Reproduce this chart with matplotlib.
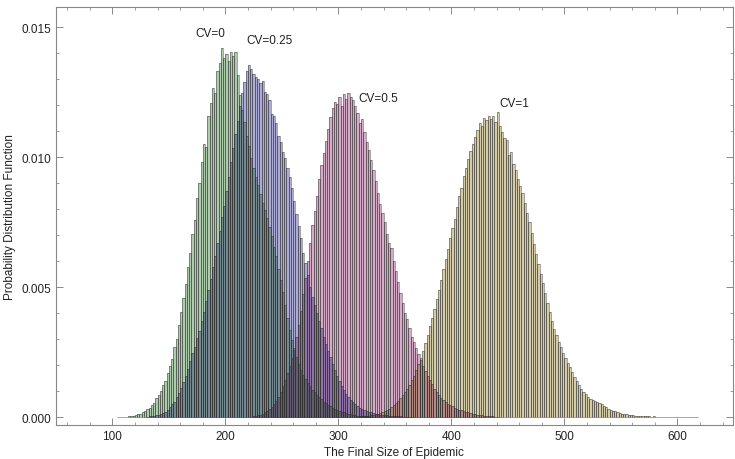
import numpy as np
import matplotlib
matplotlib.use("Agg")
import matplotlib.pyplot as plt
from matplotlib.ticker import MultipleLocator, FormatStrFormatter

plt.rcParams["font.family"] = ["Liberation Sans", "DejaVu Sans"]

# bin width of every histogram
bin_width = 2

# heights are in units of 1e-4 (probability density), bins start at *_start
cv0_start = 104
cv0_heights = [
    0.1, 0.1, 0.2, 0.1, 0.2, 0.3, 0.4, 0.5, 0.8, 1.1, 1.3, 1.9, 2.4, 3.0, 3.6, 4.8,
    5.5, 7.2, 8.4, 10.1, 12.3, 14.0, 16.9, 19.8, 22.5, 27.1, 30.2, 35.6, 40.3, 46.0,
    51.2, 57.8, 63.1, 70.5, 76.0, 84.2, 89.9, 98.0, 105.1, 104.0, 115.7, 121.0, 126.5,
    124.8, 133.0, 136.1, 141.8, 138.2, 139.6, 137.0, 140.5, 139.0, 140.3, 131.5, 124.0,
    118.2, 113.5, 108.0, 104.2, 99.5, 96.0, 92.3, 89.1, 86.0, 82.4, 79.8, 76.5, 73.2,
    69.8, 65.5, 61.9, 57.0, 52.8, 48.1, 43.0, 38.2, 33.5, 29.6, 26.0, 23.1, 20.4, 18.0,
    16.1, 14.5, 13.0, 11.8, 10.6, 9.5, 8.6, 7.6, 6.8, 6.0, 5.3, 4.7, 4.1, 3.6, 3.2, 2.8,
    2.4, 2.1, 1.8, 1.5, 1.3, 1.1, 0.9, 0.8, 0.6, 0.5, 0.4, 0.3, 0.3, 0.2, 0.1,
]

cv025_start = 130
cv025_heights = [
    0.2, 0.3, 0.4, 0.5, 0.7, 0.9, 1.2, 1.6, 2.1, 2.9, 3.8, 4.9, 6.0, 7.6, 9.3, 11.2,
    13.5, 15.8, 18.4, 21.5, 24.6, 27.0, 30.3, 33.1, 37.0, 40.5, 44.8, 48.9, 53.0, 57.6,
    62.0, 66.9, 71.5, 76.8, 81.2, 87.0, 92.5, 98.0, 103.6, 108.9, 114.0, 119.5, 124.8,
    128.9, 133.2, 135.5, 134.0, 132.1, 131.0, 130.2, 128.5, 129.3, 125.0, 124.1, 121.9,
    116.5, 115.8, 113.0, 108.2, 106.0, 102.1, 99.5, 96.0, 92.3, 88.0, 83.1, 78.0, 73.5,
    68.8, 63.0, 59.1, 54.6, 50.0, 46.3, 43.0, 40.1, 37.0, 34.2, 31.0, 28.1, 25.3, 23.0,
    20.5, 18.1, 15.8, 13.9, 12.0, 10.4, 9.0, 7.8, 6.7, 5.8, 5.0, 4.3, 3.7, 3.2, 2.8,
    2.4, 2.1, 1.8, 1.6, 1.4, 1.2, 1.0, 0.9, 0.8, 0.7, 0.6, 0.5, 0.4, 0.4, 0.3, 0.3,
    0.2, 0.2, 0.2, 0.1, 0.1,
]

cv05_start = 224
cv05_heights = [
    0.5, 0.6, 0.8, 1.0, 1.4, 1.8, 2.3, 3.0, 3.8, 4.9, 6.2, 7.8, 9.7, 11.9, 14.2, 16.8,
    19.5, 22.9, 26.5, 30.8, 35.6, 41.0, 47.3, 53.6, 60.1, 67.0, 73.8, 79.2, 85.0, 91.4,
    96.8, 101.5, 106.1, 110.9, 115.6, 119.0, 121.1, 120.3, 123.0, 119.8, 124.1, 122.5,
    124.6, 123.1, 121.8, 119.5, 116.9, 113.2, 114.8, 109.6, 106.0, 102.8, 99.0, 95.1,
    91.0, 86.3, 82.0, 78.6, 75.1, 70.3, 66.8, 64.9, 60.0, 56.1, 51.8, 47.9, 43.8, 40.2,
    37.6, 34.1, 30.9, 28.8, 26.5, 24.3, 22.0, 19.6, 17.8, 15.9, 14.1, 12.6, 11.0, 9.7,
    8.4, 7.4, 6.5, 5.8, 5.1, 4.6, 4.1, 3.7, 3.3, 2.9, 2.6, 2.3, 2.0, 1.8, 1.5, 1.3, 1.1,
    1.0, 0.8, 0.7, 0.6, 0.5, 0.4, 0.3, 0.3, 0.2, 0.2,
]

cv1_start = 316
cv1_heights = [
    0.2, 0.3, 0.3, 0.4, 0.5, 0.6, 0.7, 0.9, 1.1, 1.3, 1.6, 1.9, 2.3, 2.8, 3.3, 3.9,
    4.6, 5.4, 6.3, 7.3, 8.4, 9.6, 11.0, 12.5, 14.2, 16.0, 18.1, 20.3, 22.8, 25.4, 28.6,
    31.5, 34.9, 38.2, 41.6, 45.3, 49.0, 52.9, 56.8, 61.0, 64.5, 68.9, 72.6, 76.1, 80.8,
    85.0, 88.2, 92.7, 96.0, 99.1, 102.5, 105.0, 107.8, 110.5, 113.2, 112.0, 115.1,
    114.3, 116.0, 114.8, 115.9, 113.5, 117.2, 112.0, 109.5, 107.3, 106.5, 100.8, 101.9,
    97.5, 95.0, 91.6, 89.0, 86.2, 82.5, 78.6, 74.9, 70.8, 66.5, 62.9, 59.0, 55.1, 51.6,
    47.8, 44.0, 40.5, 37.1, 33.9, 31.5, 29.0, 26.8, 24.6, 22.9, 21.0, 19.4, 17.5, 15.6,
    14.0, 12.5, 11.0, 9.8, 8.8, 7.9, 7.1, 6.5, 6.2, 5.8, 5.5, 5.0, 4.4, 3.8, 3.2, 2.8,
    2.4, 2.2, 1.8, 1.6, 1.4, 1.2, 1.3, 0.9, 0.8, 0.7, 0.6, 0.6, 0.5, 0.4, 0.4, 0.3, 0.3,
    0.2, 0.3, 0.2, 0.2, 0.1, 0.2, 0.1, 0.1, 0.1, 0.1, 0.1, 0.1, 0.1, 0.1, 0.1, 0.1, 0.1,
    0.1, 0.1, 0.1, 0.1,
]

labels = ["CV=0", "CV=0.25", "CV=0.5", "CV=1"]
label_x = [187, 239, 335, 456]
label_y = [0.01478, 0.01450, 0.01228, 0.01210]

starts = [cv0_start, cv025_start, cv05_start, cv1_start]
all_heights = [cv0_heights, cv025_heights, cv05_heights, cv1_heights]
face_cols = [
    (0.68, 0.80, 0.67),
    (0.67, 0.67, 0.84),
    (0.84, 0.67, 0.78),
    (0.83, 0.80, 0.66),
]

# put every series on one common bin grid
grid0 = 100
n_bins = 262
H = np.zeros((4, n_bins))
for k in range(4):
    i0 = (starts[k] - grid0) // bin_width
    H[k, i0:i0 + len(all_heights[k])] = np.array(all_heights[k]) * 1e-4
lefts = grid0 + bin_width * np.arange(n_bins)

# overlapping parts: colours multiply where histograms overlap
seg_x, seg_b, seg_h, seg_c = [], [], [], []
for i in range(n_bins):
    col_h = H[:, i]
    levels = sorted(set(col_h[col_h > 0]))
    prev = 0.0
    for lv in levels:
        c = np.ones(3)
        for k in range(4):
            if col_h[k] >= lv:
                c = c * np.array(face_cols[k])
        seg_x.append(lefts[i])
        seg_b.append(prev)
        seg_h.append(lv - prev)
        seg_c.append(tuple(c))
        prev = lv

fig = plt.figure(figsize=(7.35, 4.6), dpi=100)
ax = fig.add_axes([0.076, 0.074, 0.921, 0.909])

ax.bar(seg_x, seg_h, bottom=seg_b, width=bin_width, align="edge",
       color=seg_c, linewidth=0)
for k in range(4):
    m = H[k] > 0
    ax.bar(lefts[m], H[k][m], width=bin_width, align="edge", fill=False,
           edgecolor=(0.2, 0.2, 0.2, 0.7), linewidth=0.45)

for txt, x, y in zip(labels, label_x, label_y):
    ax.text(x, y, txt, ha="center", va="center", fontsize=8.5, color="#222222")

ax.set_xlim(50, 649)
ax.set_ylim(-0.0003, 0.01578)

ax.xaxis.set_major_locator(MultipleLocator(100))
ax.xaxis.set_minor_locator(MultipleLocator(20))
ax.yaxis.set_major_locator(MultipleLocator(0.005))
ax.yaxis.set_minor_locator(MultipleLocator(0.001))
ax.yaxis.set_major_formatter(FormatStrFormatter("%.3f"))

ax.tick_params(which="both", direction="in", top=True, right=True,
               color="#777777", labelsize=8.5, labelcolor="#222222")
ax.tick_params(which="major", length=5, width=0.6)
ax.tick_params(which="minor", length=2.5, width=0.5)
for sp in ax.spines.values():
    sp.set_color("#888888")
    sp.set_linewidth(0.8)

ax.set_xlabel("The Final Size of Epidemic", fontsize=8.5, color="#222222", labelpad=3)
ax.set_ylabel("Probability Distribution Function", fontsize=8.5, color="#222222", labelpad=4)

fig.savefig("out.png", dpi=100)
